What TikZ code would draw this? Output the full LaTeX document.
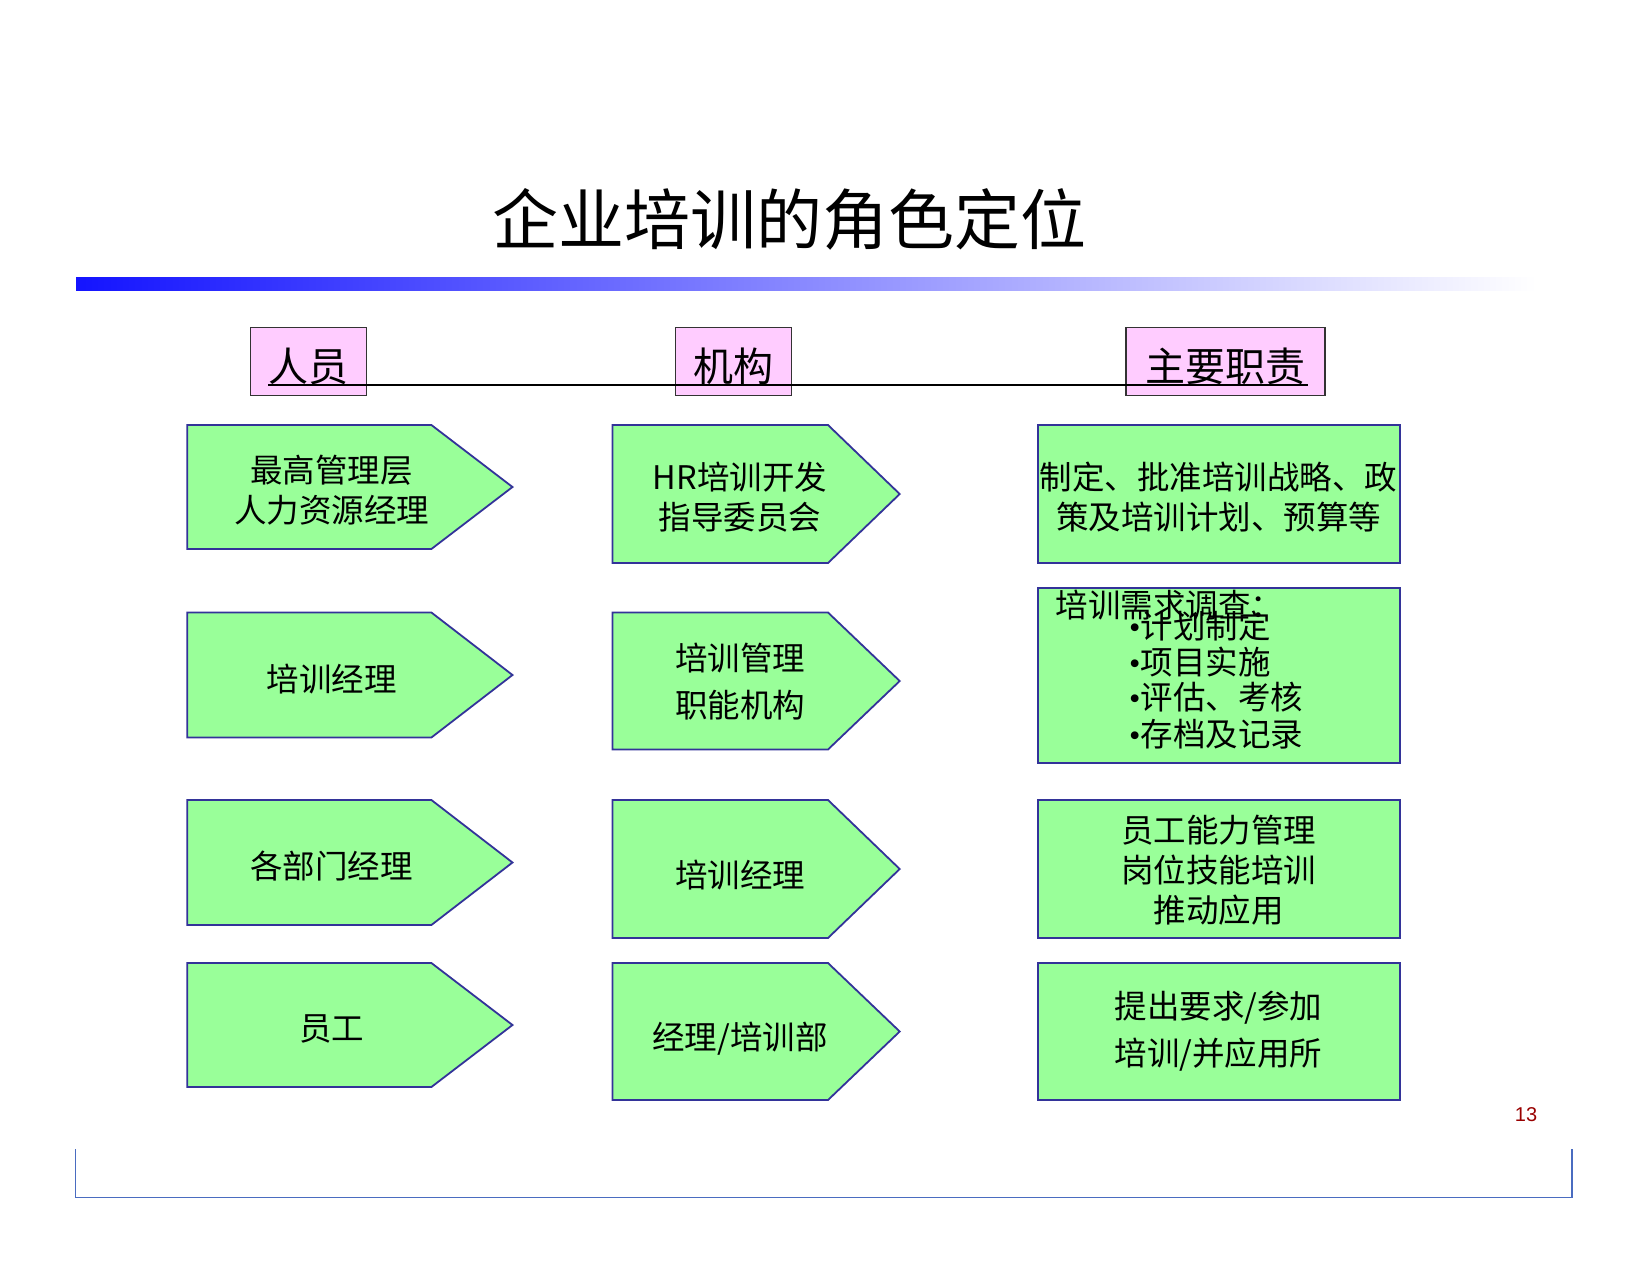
\documentclass[tikz,border=0pt]{standalone}
\usepackage{fontspec}
\setmainfont{Liberation Serif}
\setsansfont{Liberation Sans}
\newfontfamily\cjk{Noto Sans CJK SC}
\definecolor{boxgreen}{HTML}{99FF99}
\definecolor{boxedge}{HTML}{333399}
\definecolor{headpink}{HTML}{FFCCFF}
\definecolor{framebl}{HTML}{4A6CC0}
\definecolor{pgred}{HTML}{990000}
\definecolor{barblue}{HTML}{1414FF}
\begin{document}
\begin{tikzpicture}[x=1pt,y=-1pt,
  shapebox/.style={draw=boxedge, fill=boxgreen, line width=1.8pt, line join=miter},
  headbox/.style={draw=black!80, fill=headpink, line width=1.2pt},
  lbl/.style={font=\cjk\fontsize{32.5}{40}\selectfont, inner sep=0pt, align=center, anchor=center},
  lblwide/.style={font=\cjk\fontsize{32.5}{46.5}\selectfont, inner sep=0pt, align=center, anchor=center},
  lblleft/.style={font=\cjk\fontsize{32.5}{40}\selectfont, inner sep=0pt, anchor=west},
  headtxt/.style={font=\cjk\fontsize{40}{48}\selectfont, inner sep=0pt, anchor=center}
]
\useasboundingbox (0,0) rectangle (1650,1275);
\fill[white] (0,0) rectangle (1650,1275);

% title
\node[font=\cjk\fontsize{66}{70}\selectfont, inner sep=0pt] (title) at (789,219) {企业培训的角色定位};
% gradient bar
\shade[left color=barblue, right color=white] (76,277) rectangle (1536,290);

% header boxes
\draw[headbox] (250.4,327.3) rectangle (366.2,395.7);
\draw[headbox] (675.6,327.3) rectangle (791.3,395.7);
\draw[headbox] (1126,327.3) rectangle (1325,395.7);
\node[headtxt] (h1) at (308,366) {人员};
\node[headtxt] (h2) at (733.5,366) {机构};
\node[headtxt] (h3) at (1225.5,366) {主要职责};
\coordinate (lineA) at (268,385);
\coordinate (lineB) at (1308,385);
\draw[line width=2.2pt, black] (lineA) -- (lineB);

% column 1 pentagons
\newcommand\pentshape[5]{\draw[shapebox] (#1,#2) -- (#3,#2) -- (#4,{(#2+#5)/2}) -- (#3,#5) -- (#1,#5) -- cycle;}
\pentshape{187.3}{425}{431.4}{512.5}{549}
\pentshape{187.3}{612.5}{431.4}{512.5}{737.5}
\pentshape{187.3}{800}{431.4}{512.5}{925}
\pentshape{187.3}{963}{431.4}{512.5}{1087}
% column 2 pentagons
\pentshape{612.4}{425}{828}{899.7}{563}
\pentshape{612.4}{612.5}{828}{899.7}{749.5}
\pentshape{612.4}{800}{828}{899.7}{938}
\pentshape{612.4}{963}{828}{899.7}{1100}
% column 3 rectangles
\draw[shapebox] (1037.6,425) rectangle (1399.6,563);
\draw[shapebox] (1037.6,588) rectangle (1399.6,763);
\draw[shapebox] (1037.6,800) rectangle (1399.6,938);
\draw[shapebox] (1037.6,963) rectangle (1399.6,1100);

% column 1 texts
\node[lbl] (p1) at (331.5,490) {最高管理层\\人力资源经理};
\node[lbl] (p2) at (331.5,679) {培训经理};
\node[lbl] (p3) at (331.5,866) {各部门经理};
\node[lbl] (p4) at (331.5,1029) {员工};
% column 2 texts
\node[lbl] (o1) at (740,497) {HR培训开发\\指导委员会};
\node[lblwide] (o2) at (740,681.5) {培训管理\\职能机构};
\node[lbl] (o3) at (740,875.5) {培训经理};
\node[lbl] (o4) at (740,1038.6) {经理/培训部};
% column 3 texts
\node[lbl] (r1) at (1218.6,497) {制定、批准培训战略、政\\策及培训计划、预算等};
\node[lblleft] (r2t) at (1055.5,605) {培训需求调查：};
\node[lblleft] (r2a) at (1129,626) {{\rmfamily •}计划制定};
\node[lblleft] (r2b) at (1129,662) {{\rmfamily •}项目实施};
\node[lblleft] (r2c) at (1129,697) {{\rmfamily •}评估、考核};
\node[lblleft] (r2d) at (1129,734.5) {{\rmfamily •}存档及记录};
\node[lbl] (r3) at (1218.6,870.5) {员工能力管理\\岗位技能培训\\推动应用};
\node[lblwide] (r4) at (1218.6,1031) {提出要求/参加\\培训/并应用所};

% page number
\node[font=\sffamily\fontsize{20}{24}\selectfont, text=pgred, inner sep=0pt] (pg) at (1526,1115) {13};

% bottom frame
\coordinate (fA) at (75.8,1149);
\coordinate (fB) at (75.8,1197.5);
\coordinate (fC) at (1572,1197.5);
\coordinate (fD) at (1572,1149);
\draw[framebl, line width=1.2pt] (fA) -- (fB) -- (fC) -- (fD);
\end{tikzpicture}
\end{document}
